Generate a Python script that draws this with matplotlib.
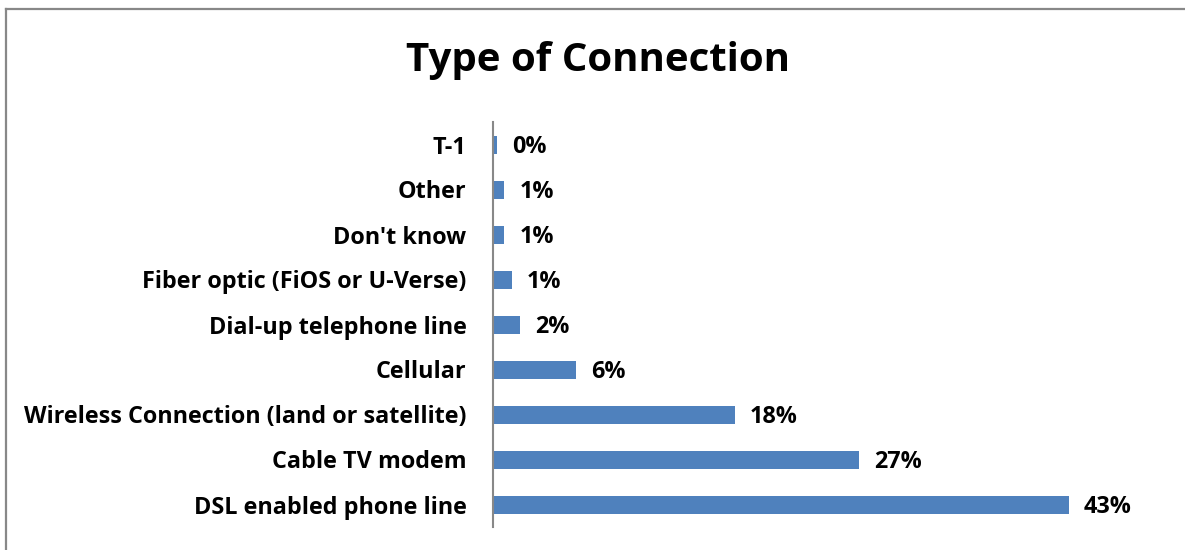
import matplotlib.pyplot as plt
from matplotlib.lines import Line2D

categories = ["DSL enabled phone line", "Cable TV modem",
              "Wireless Connection (land or satellite)", "Cellular",
              "Dial-up telephone line", "Fiber optic (FiOS or U-Verse)",
              "Don't know", "Other", "T-1"]
shares = [42.9, 27.3, 18.0, 6.2, 2.0, 1.4, 0.85, 0.85, 0.3]

plt.rcParams['font.family'] = ['Open Sans', 'DejaVu Sans']

fig = plt.figure(figsize=(11.85, 5.5), dpi=100)
# outer chart frame: only top and left edges fall inside the figure
fx, fy = 5.5 / 1185, 1 - 8.5 / 550
fig.add_artist(Line2D([fx, 1.0], [fy, fy], transform=fig.transFigure,
                      color="#888888", linewidth=1.6))
fig.add_artist(Line2D([fx, fx], [0.0, fy], transform=fig.transFigure,
                      color="#888888", linewidth=1.6))

ax = fig.add_axes([493 / 1185, 1 - 527 / 550, 671 / 1185, 405 / 550])
y = range(len(categories))
ax.barh(y, shares, height=0.4, color="#4f81bd")
ax.set_xlim(0, 50)
ax.set_ylim(-0.5, len(categories) - 0.5)

ax.set_yticks(list(y))
ax.set_yticklabels(categories, fontsize=16.8, fontweight="bold")
ax.tick_params(axis="y", length=0, pad=19)
ax.set_xticks([])
for side in ["top", "right", "bottom"]:
    ax.spines[side].set_visible(False)
ax.spines["left"].set_color("#888888")
ax.spines["left"].set_linewidth(1.5)

for i, v in enumerate(shares):
    ax.annotate(f"{v:.0f}%", (v, i), xytext=(11, -2), textcoords="offset points",
                va="center", ha="left", fontsize=16.8, fontweight="bold")

fig.text(598 / 1185, 1 - 60 / 550, "Type of Connection", ha="center", va="center",
         fontsize=29, fontweight="bold")

fig.savefig("out.png", dpi=100)
